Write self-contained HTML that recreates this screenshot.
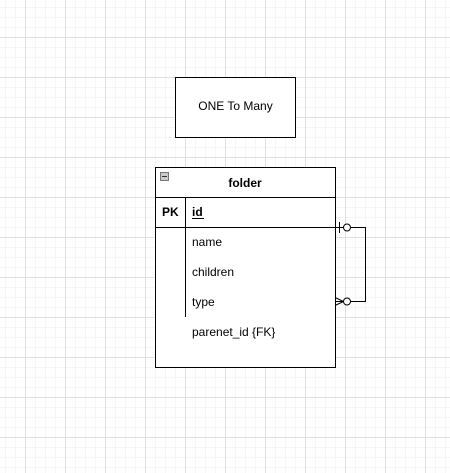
<!DOCTYPE html>
<html><head><style>
html,body{margin:0;padding:0;background:#fff;width:450px;height:473px;overflow:hidden}
svg{display:block}
text{font-family:"Liberation Sans",Arial,sans-serif;font-size:12px;fill:#000}
</style></head><body>
<svg width="450" height="473" xmlns="http://www.w3.org/2000/svg">
<defs>
<pattern id="minor" x="5" y="7" width="10" height="10" patternUnits="userSpaceOnUse">
<path d="M0 0.5H10M0.5 0V10" stroke="#f5f5f5" stroke-width="1" fill="none"/>
</pattern>
<pattern id="major" x="25" y="37" width="40" height="40" patternUnits="userSpaceOnUse">
<path d="M0 0.5H40M0.5 0V40" stroke="#e0e0e0" stroke-width="1" fill="none"/>
</pattern>
</defs>
<rect width="450" height="473" fill="url(#minor)"/>
<rect width="450" height="473" fill="url(#major)"/>

<rect x="175.5" y="77.5" width="120" height="60" fill="#fff" stroke="#000"/>
<text x="235.5" y="110" text-anchor="middle">ONE To Many</text>

<rect x="155.5" y="167.5" width="180" height="200" fill="#fff" stroke="#000"/>
<line x1="155" y1="197.5" x2="336" y2="197.5" stroke="#000"/>
<line x1="155" y1="227.5" x2="336" y2="227.5" stroke="#000"/>
<line x1="185.5" y1="197" x2="185.5" y2="317" stroke="#000"/>
<rect x="160.5" y="172.5" width="8" height="8" fill="#ccc" stroke="#777"/>
<line x1="162" y1="176.5" x2="167" y2="176.5" stroke="#333"/>
<text x="245" y="187" text-anchor="middle" style="font-weight:bold">folder</text>
<text x="162" y="216" style="font-weight:bold">PK</text>
<text x="192" y="216" style="font-weight:bold">id</text>
<line x1="192" y1="218.5" x2="204" y2="218.5" stroke="#000"/>
<text x="192" y="246">name</text>
<text x="192" y="276">children</text>
<text x="192" y="306">type</text>
<text x="192" y="336">parenet_id {FK}</text>

<path d="M335 227.5H343.5M350.5 227.5H365.5V301.5H350.5M343.5 301.5H335" fill="none" stroke="#000"/>
<line x1="339.5" y1="222" x2="339.5" y2="233" stroke="#000"/>
<circle cx="347" cy="227.5" r="3.5" fill="#fff" stroke="#000"/>
<path d="M335 297.5L343.5 301.5L335 305.5" fill="none" stroke="#000"/>
<circle cx="347" cy="301.5" r="3.5" fill="#fff" stroke="#000"/>
</svg>
</body></html>
